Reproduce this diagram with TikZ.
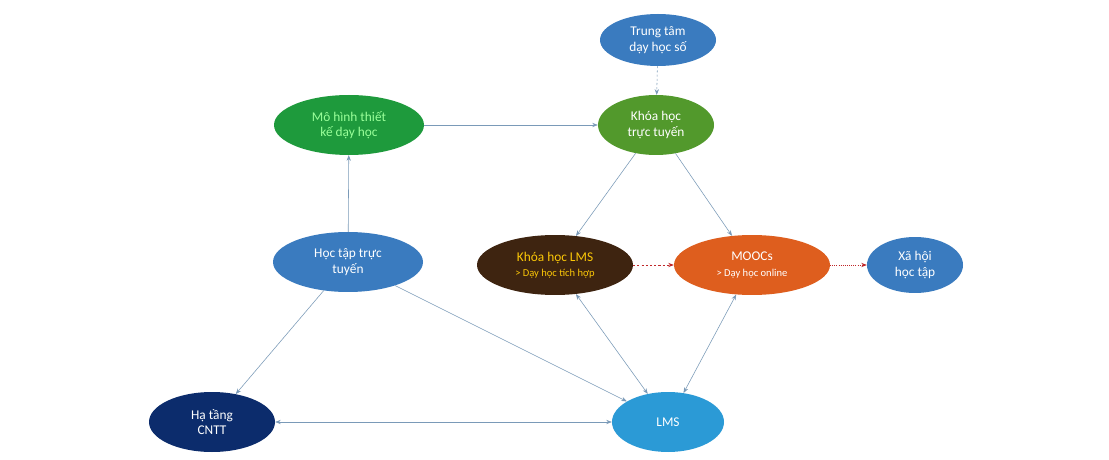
\documentclass[tikz,border=0pt]{standalone}
\usepackage{fontspec}
\setmainfont{Carlito}
\usetikzlibrary{shapes.geometric, arrows.meta}
\definecolor{cblue}{HTML}{3A7BBF}
\definecolor{cgreen}{HTML}{1E9A3C}
\definecolor{cgrass}{HTML}{52992C}
\definecolor{cbrown}{HTML}{3E2410}
\definecolor{corange}{HTML}{DE5E1E}
\definecolor{cnavy}{HTML}{0C2C6C}
\definecolor{csky}{HTML}{2B9AD6}
\definecolor{cedge}{HTML}{7A9AB8}
\definecolor{cred}{HTML}{C0282A}
\tikzset{
  blob/.style={ellipse, inner sep=0pt, text=white, align=center, font=\fontsize{19}{22}\selectfont},
  link/.style={draw=cedge, line width=0.8pt, -{Stealth[length=8pt]}},
  both/.style={link, {Stealth[length=8pt]}-{Stealth[length=8pt]}},
  redlink/.style={draw=cred, line width=1pt, dashed, -{Stealth[length=8pt]}}
}
\begin{document}
\begin{tikzpicture}[x=0.05cm, y=-0.05cm]
\useasboundingbox[fill=white] (0,0) rectangle (1109,460);
\node[blob, fill=cblue, minimum width=5.8cm, minimum height=2.6cm] (T) at (658,40) {Trung tâm\\dạy học số};
\node[blob, fill=cgreen, text=green!40!white, minimum width=7.5cm, minimum height=3cm] (M) at (349,125) {Mô hình thiết\\kế dạy học};
\node[blob, fill=cgrass, minimum width=5.8cm, minimum height=3cm] (K) at (656,125) {Khóa học\\trực tuyến};
\node[blob, fill=cblue, minimum width=7.5cm, minimum height=3cm] (H) at (348,262) {Học tập trực\\tuyến};
\node[blob, fill=cbrown, text=yellow!60!orange, minimum width=7.8cm, minimum height=3cm] (L) at (555,265) {Khóa học LMS\\{\fontsize{15}{18}\selectfont > Dạy học tích hợp}};
\node[blob, fill=corange, minimum width=7.8cm, minimum height=3cm] (O) at (752,265) {MOOCs\\{\fontsize{15}{18}\selectfont > Dạy học online}};
\node[blob, fill=cblue, minimum width=4.8cm, minimum height=2.8cm] (X) at (915,265) {Xã hội\\học tập};
\node[blob, fill=cnavy, minimum width=6.3cm, minimum height=3cm] (C) at (212,422) {Hạ tầng\\CNTT};
\node[blob, fill=csky, minimum width=5.6cm, minimum height=3cm] (S) at (668,422) {LMS};
\draw[link, dashed] (T) -- (K);
\draw[link] (M) -- (K);
\draw[link] (H) -- (M);
\draw[link] (K) -- (L);
\draw[link] (K) -- (O);
\draw[redlink] (L) -- (O);
\draw[redlink, dotted] (O) -- (X);
\draw[link] (H) -- (C);
\draw[link] (H) -- (S);
\draw[both] (C) -- (S);
\draw[both] (L) -- (S);
\draw[both] (O) -- (S);
\end{tikzpicture}
\end{document}
